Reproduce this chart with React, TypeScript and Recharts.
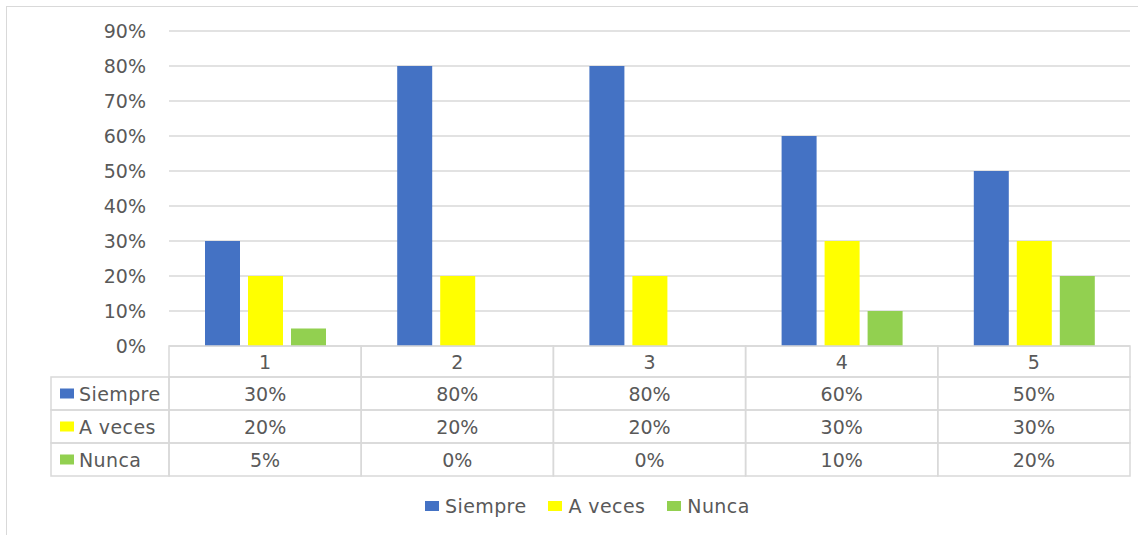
import React from 'react';
import { BarChart, Bar, XAxis, YAxis, CartesianGrid, Legend } from 'recharts';

const categories = ['1', '2', '3', '4', '5'];
const siempre = [0.3, 0.8, 0.8, 0.6, 0.5];
const aVeces = [0.2, 0.2, 0.2, 0.3, 0.3];
const nunca = [0.05, 0, 0, 0.1, 0.2];
const yTicks = [0, 0.1, 0.2, 0.3, 0.4, 0.5, 0.6, 0.7, 0.8, 0.9];

const SERIES = [
  { key: 'siempre', name: 'Siempre', color: '#4472C4', values: siempre },
  { key: 'aVeces', name: 'A veces', color: '#FFFF00', values: aVeces },
  { key: 'nunca', name: 'Nunca', color: '#92D050', values: nunca },
];

const data = categories.map((c, i) => ({
  cat: c,
  siempre: siempre[i],
  aVeces: aVeces[i],
  nunca: nunca[i],
}));

const W = 1138;
const H = 535;
const MARGIN = { top: 31, right: 8, left: 109, bottom: 9 };
const YAXIS_W = 60;
const PLOT_W = W - MARGIN.left - MARGIN.right - YAXIS_W;
const BAND = PLOT_W / categories.length;
const HEAD_H = 31;
const ROW_H = 33;
const LEFT_COL_W = 118;
const FONT = 'DejaVu Sans';
const FS = 19;
const TXT = '#595959';
const LINE = '#d9d9d9';

const pct = (v: number) => `${Math.round(v * 100)}%`;

const TableColumn = (props: any) => {
  const { x, y, payload, index } = props;
  const left = x - BAND / 2;
  const top = y;
  const idx = payload?.index ?? index;
  return (
    <g>
      <rect x={left} y={top} width={BAND} height={HEAD_H} fill="none" stroke={LINE} strokeWidth={1.5} />
      <text x={x} y={top + HEAD_H / 2} textAnchor="middle" dominantBaseline="central" fill={TXT} fontFamily={FONT} fontSize={FS}>
        {payload.value}
      </text>
      {SERIES.map((s, r) => {
        const ry = top + HEAD_H + r * ROW_H;
        return (
          <g key={s.key}>
            <rect x={left} y={ry} width={BAND} height={ROW_H} fill="none" stroke={LINE} strokeWidth={1.5} />
            <text x={x} y={ry + ROW_H / 2} textAnchor="middle" dominantBaseline="central" fill={TXT} fontFamily={FONT} fontSize={FS}>
              {pct(s.values[idx])}
            </text>
          </g>
        );
      })}
      {idx === 0 &&
        SERIES.map((s, r) => {
          const ry = top + HEAD_H + r * ROW_H;
          const lx = left - LEFT_COL_W;
          return (
            <g key={'l' + s.key}>
              <rect x={lx} y={ry} width={LEFT_COL_W} height={ROW_H} fill="none" stroke={LINE} strokeWidth={1.5} />
              <rect x={lx + 9} y={ry + ROW_H / 2 - 5} width={14} height={10} fill={s.color} />
              <text x={lx + 28} y={ry + ROW_H / 2} dominantBaseline="central" fill={TXT} fontFamily={FONT} fontSize={FS} letterSpacing={0.4}>
                {s.name}
              </text>
            </g>
          );
        })}
    </g>
  );
};

const LegendContent = () => (
  <div
    style={{
      height: 50,
      paddingTop: 20,
      paddingLeft: 425,
      boxSizing: 'border-box',
      display: 'flex',
      justifyContent: 'flex-start',
      alignItems: 'flex-start',
      fontFamily: FONT,
      fontSize: FS,
      color: TXT,
      lineHeight: '20px',
      letterSpacing: '0.4px',
    }}
  >
    {SERIES.map((s) => (
      <div key={s.key} style={{ display: 'flex', alignItems: 'center', marginRight: 22, height: 20 }}>
        <span style={{ display: 'inline-block', width: 14, height: 10, background: s.color, marginRight: 6 }} />
        <span>{s.name}</span>
      </div>
    ))}
  </div>
);

export default function App() {
  return (
    <div style={{ position: 'absolute', left: 0, top: 0, width: W, height: H, background: '#fff' }}>
      <div
        style={{
          position: 'absolute',
          left: 6,
          top: 6,
          width: W,
          height: H,
          borderLeft: `1.5px solid ${LINE}`,
          borderTop: `1.5px solid ${LINE}`,
        }}
      />
      <BarChart
        width={W}
        height={H}
        data={data}
        margin={MARGIN}
        barCategoryGap={36}
        barGap={8}
        style={{ position: 'absolute', left: 0, top: 0 }}
      >
        <CartesianGrid vertical={false} stroke={LINE} strokeWidth={1.5} />
        <YAxis
          width={YAXIS_W}
          domain={[0, 0.9]}
          ticks={yTicks}
          tickFormatter={pct}
          axisLine={false}
          tickLine={false}
          tickSize={0}
          tickMargin={23}
          tick={{ fill: TXT, fontFamily: FONT, fontSize: FS }}
        />
        <XAxis
          dataKey="cat"
          height={130}
          interval={0}
          axisLine={false}
          tickLine={false}
          tickSize={0}
          tickMargin={0}
          tick={(p: any) => <TableColumn {...p} />}
        />
        <Legend
          verticalAlign="bottom"
          wrapperStyle={{ left: 0, width: W }}
          content={() => <LegendContent />}
        />
        {SERIES.map((s) => (
          <Bar key={s.key} dataKey={s.key} name={s.name} fill={s.color} isAnimationActive={false} />
        ))}
      </BarChart>
    </div>
  );
}
